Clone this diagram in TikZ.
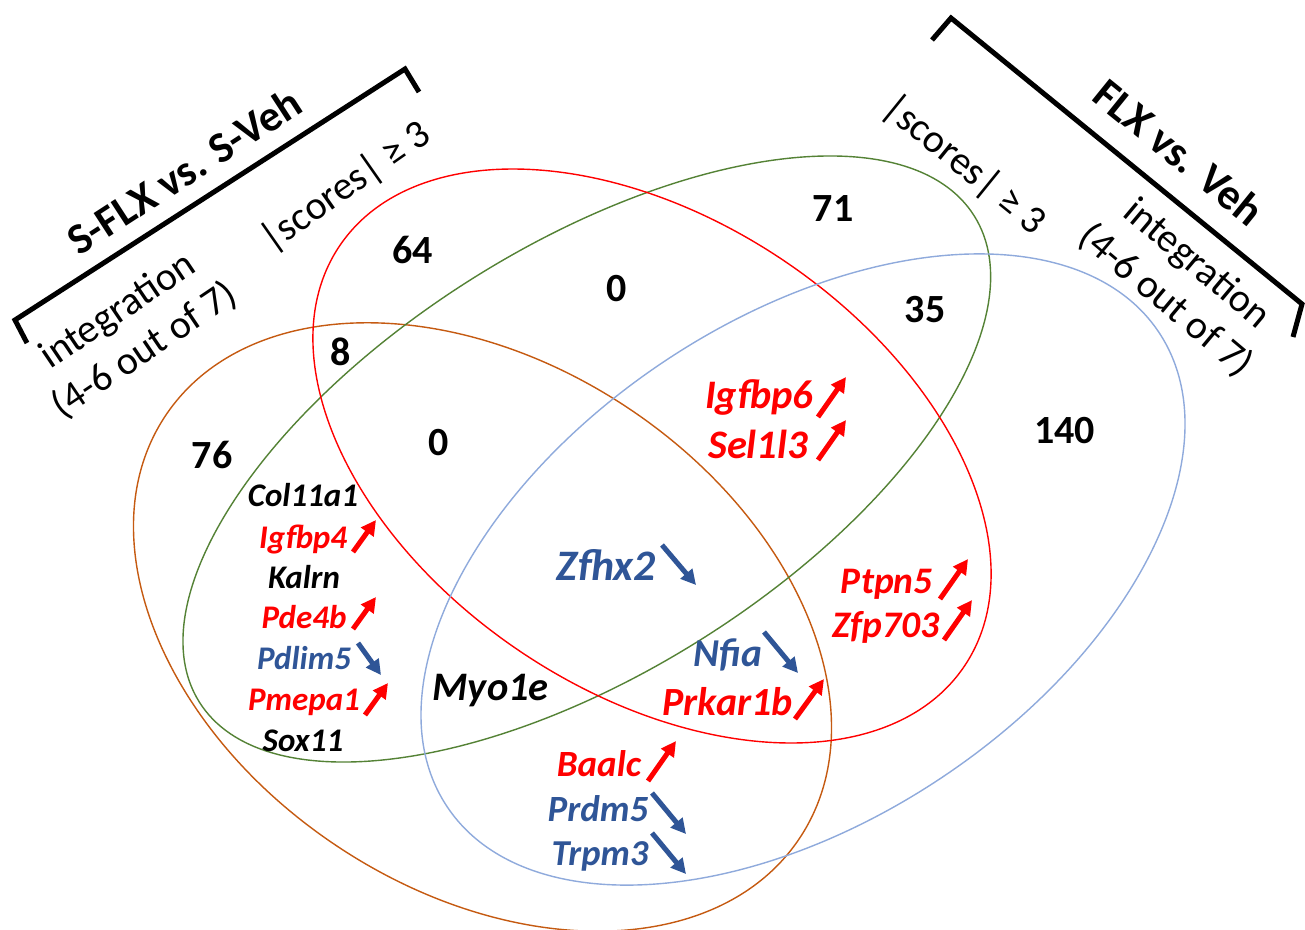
\documentclass[tikz,border=0pt]{standalone}
\usepackage{fontspec}
\setmainfont{Carlito}
\usetikzlibrary{arrows.meta}
\definecolor{cred}{RGB}{255,0,0}
\definecolor{cblue}{RGB}{47,85,151}
\definecolor{corange}{RGB}{197,90,17}
\definecolor{cgreen}{RGB}{84,130,53}
\definecolor{clblue}{RGB}{143,170,220}
\newcommand{\gfs}[1]{\fontsize{#1}{#1}\selectfont\bfseries\itshape}
\begin{document}
\begin{tikzpicture}[x=1pt,y=-1pt,
  num/.style={font=\fontsize{40}{48}\selectfont\bfseries, anchor=base, inner sep=0pt},
  genebig/.style={font=\gfs{39}, anchor=base, inner sep=0pt},
  genesmall/.style={font=\gfs{33}, anchor=base, inner sep=0pt},
  uparr/.style={cred, line width=5pt, -{Triangle[length=15pt,width=15pt]}},
  dnarr/.style={cblue, line width=5pt, -{Triangle[length=15pt,width=15pt]}},
  ring/.style={line width=1.4pt},
  bracket/.style={line width=5pt, line join=miter},
  title/.style={font=\fontsize{43.5}{52}\selectfont\bfseries, inner sep=0pt},
  crit/.style={font=\fontsize{40}{48}\selectfont, inner sep=0pt, align=center}]
\fill[white] (0,0) rectangle (1305,929);
\useasboundingbox (0,0) rectangle (1305,929);

% ellipses
\draw[ring, corange, rotate around={-33.7:(482.5,627)}] (482.5,627) ellipse [x radius=381pt, y radius=263pt];
\draw[ring, cgreen, rotate around={32.1:(586.8,459)}] (586.8,459) ellipse [x radius=457.4pt, y radius=213.6pt];
\draw[ring, cred, rotate around={-33.9:(652,456)}] (652,456) ellipse [x radius=376.5pt, y radius=235.7pt];
\draw[ring, clblue, rotate around={33.7:(803,569.5)}] (803,569.5) ellipse [x radius=427.7pt, y radius=250.1pt];

% brackets
\draw[bracket] (27,343) -- (15,320) -- (405,69) -- (419,92);
\draw[bracket] (932,40) -- (951,18) -- (1302,304) -- (1293,337);

% headings
\node[title, rotate=33] (lt) at (184,171) {S-FLX vs. S-Veh};
\node[crit, rotate=35] (ls) at (346,187) {|scores| ≥ 3};
\node[crit, rotate=34] (li) at (131.5,331) {integration\\(4-6 out of 7)};
\node[title, rotate=-39] (rt) at (1179,152) {FLX vs. Veh};
\node[crit, rotate=-39] (rs) at (964,165) {|scores| ≥ 3};
\node[crit, rotate=-40] (ri) at (1181,282.5) {integration\\(4-6 out of 7)};

% counts
\node[num] (n64) at (412.5,263.3) {64};
\node[num] (n0a) at (616.7,301.7) {0};
\node[num] (n71) at (833,221.7) {71};
\node[num] (n35) at (925,322.7) {35};
\node[num] (n8) at (341,365) {8};
\node[num] (n0b) at (439,455) {0};
\node[num] (n76) at (212,468.3) {76};
\node[num] (n140) at (1064.7,443) {140};

% left gene list
\node[genesmall] (g1) at (303,506) {Col11a1};
\node[genesmall, text=cred] (g2) at (303,548) {Igfbp4};
\node[genesmall] (g3) at (304,588) {Kalrn};
\node[genesmall, text=cred] (g4) at (304,628) {Pde4b};
\node[genesmall, text=cblue] (g5) at (304,669) {Pdlim5};
\node[genesmall, text=cred] (g6) at (304,710) {Pmepa1};
\node[genesmall] (g7) at (303,751) {Sox11};
\draw[uparr] (353,552) -- (376,520);
\draw[uparr] (353,629) -- (376,597);
\draw[dnarr] (358,643) -- (381,675);
\draw[uparr] (365,715) -- (388,683);

% other genes
\node[genebig, font=\gfs{40.5}, text=cred] (g8) at (759,408) {Igfbp6};
\node[genebig, font=\gfs{40.5}, text=cred] (g9) at (758,458) {Sel1l3};
\draw[uparr] (818,417) -- (846,377);
\draw[uparr] (818,460) -- (846,420);

\node[genebig, font=\gfs{37.5}, text=cred] (g10) at (886.7,593.3) {Ptpn5};
\node[genebig, font=\gfs{37.5}, text=cred] (g11) at (886,637.3) {Zfp703};
\draw[uparr] (940,599) -- (968,559);
\draw[uparr] (944,640) -- (972,600);

\node[genebig, font=\gfs{43.5}, text=cblue] (g12) at (606,580) {Zfhx2};
\draw[dnarr] (662,545) -- (696,585);

\node[genebig, font=\gfs{40.5}] (g13) at (490.7,700) {Myo1e};

\node[genebig, font=\gfs{39.5}, text=cblue] (g14) at (728,666) {Nfia};
\draw[dnarr] (764,632) -- (798,673);
\node[genebig, font=\gfs{40}, text=cred] (g15) at (727.5,715) {Prkar1b};
\draw[uparr] (795,719) -- (824,679);

\node[genebig, font=\gfs{37}, text=cred] (g16) at (599,776.7) {Baalc};
\draw[uparr] (648,781) -- (676,741);
\node[genebig, font=\gfs{37}, text=cblue] (g17) at (598,821.7) {Prdm5};
\draw[dnarr] (652,793) -- (686,834);
\node[genebig, font=\gfs{36.5}, text=cblue] (g18) at (600,865) {Trpm3};
\draw[dnarr] (652,833) -- (686,874);
\end{tikzpicture}
\end{document}
